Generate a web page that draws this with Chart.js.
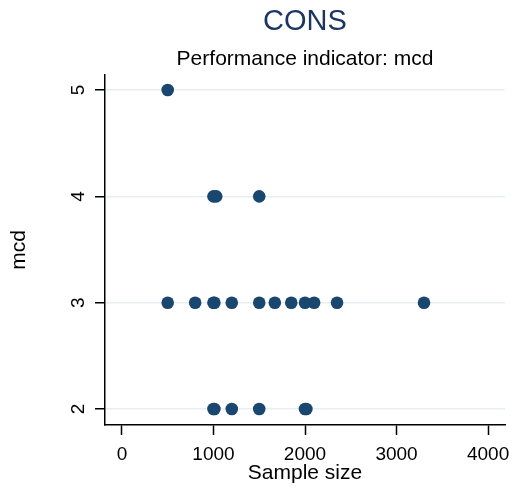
<!DOCTYPE html>
<html><head><meta charset="utf-8">
<script src="https://cdn.jsdelivr.net/npm/chart.js@4.4.0/dist/chart.umd.min.js"></script>
<style>html,body{margin:0;padding:0;background:#fff;overflow:hidden}</style>
</head><body>
<canvas id="c" width="515" height="487"></canvas>
<script>
const chartTitle = 'CONS';
const chartSubtitle = 'Performance indicator: mcd';
const xTitle = 'Sample size';
const yTitle = 'mcd';
const xTickValues = [0, 1000, 2000, 3000, 4000];
const xTickLabels = ['0', '1000', '2000', '3000', '4000'];
const yTickValues = [2, 3, 4, 5];
const yTickLabels = ['2', '3', '4', '5'];
const sampleSize = [500, 1000, 1030, 1500, 500, 800, 1000, 1010, 1200, 1500, 1670, 1850, 2000, 2100, 2350, 3300, 1000, 1010, 1200, 1500, 2000, 2015];
const mcdValue   = [5,   4,    4,    4,    3,   3,   3,    3,    3,    3,    3,    3,    3,    3,    3,    3,    2,    2,    2,    2,    2,    2];

const points = sampleSize.map((s, i) => ({x: s, y: mcdValue[i]}));
const FONT = '"Liberation Sans", Arial, sans-serif';

new Chart(document.getElementById('c'), {
  type: 'scatter',
  data: { datasets: [{ data: points, backgroundColor: '#1a476f', borderColor: '#1a476f', borderWidth: 0, pointRadius: 6.3 }] },
  options: {
    responsive: false, animation: false, devicePixelRatio: 1,
    layout: { padding: { left: 0, right: 10, top: 0, bottom: 0 } },
    plugins: {
      legend: { display: false }, tooltip: { enabled: false },
      title: { display: true, text: chartTitle, fullSize: false, color: '#1c3662',
        font: { family: FONT, size: 29, weight: 'normal', lineHeight: 1.2 }, padding: { top: 5, bottom: 0 } },
      subtitle: { display: true, text: chartSubtitle, fullSize: false, color: '#000',
        font: { family: FONT, size: 21, weight: 'normal', lineHeight: 1.2 }, padding: { top: 7, bottom: 3 } }
    },
    scales: {
      x: {
        type: 'linear', min: -185, max: 4185,
        afterBuildTicks: s => { s.ticks = xTickValues.map(v => ({ value: v })); },
        afterFit: s => { s.height = 62; s.paddingLeft = 0; s.paddingRight = 0; },
        ticks: { callback: (v, i) => xTickLabels[i], color: '#000', font: { family: FONT, size: 19 }, padding: 8, maxRotation: 0, minRotation: 0 },
        grid: { drawOnChartArea: false, drawTicks: true, tickLength: 10, tickColor: '#000', tickWidth: 1.5 },
        border: { display: true, color: '#000', width: 1.5 },
        title: { display: true, text: xTitle, color: '#000', font: { family: FONT, size: 21 }, padding: { top: 0, bottom: 1 } }
      },
      y: {
        type: 'linear', min: 1.85, max: 5.141,
        afterBuildTicks: s => { s.ticks = yTickValues.map(v => ({ value: v })); },
        afterFit: s => { s.width = 105; s.paddingTop = 0; s.paddingBottom = 0; },
        ticks: { callback: (v, i) => yTickLabels[i], color: '#000', font: { family: FONT, size: 19 }, padding: 11, minRotation: 90, maxRotation: 90, crossAlign: 'center' },
        grid: { color: '#e8eff2', lineWidth: 1.5, drawTicks: true, tickLength: 10, tickColor: '#000', tickWidth: 1.5 },
        border: { display: true, color: '#000', width: 1.5 },
        title: { display: true, text: yTitle, color: '#000', font: { family: FONT, size: 21 }, padding: { top: 7, bottom: 0 } }
      }
    }
  }
});
</script>
</body></html>
